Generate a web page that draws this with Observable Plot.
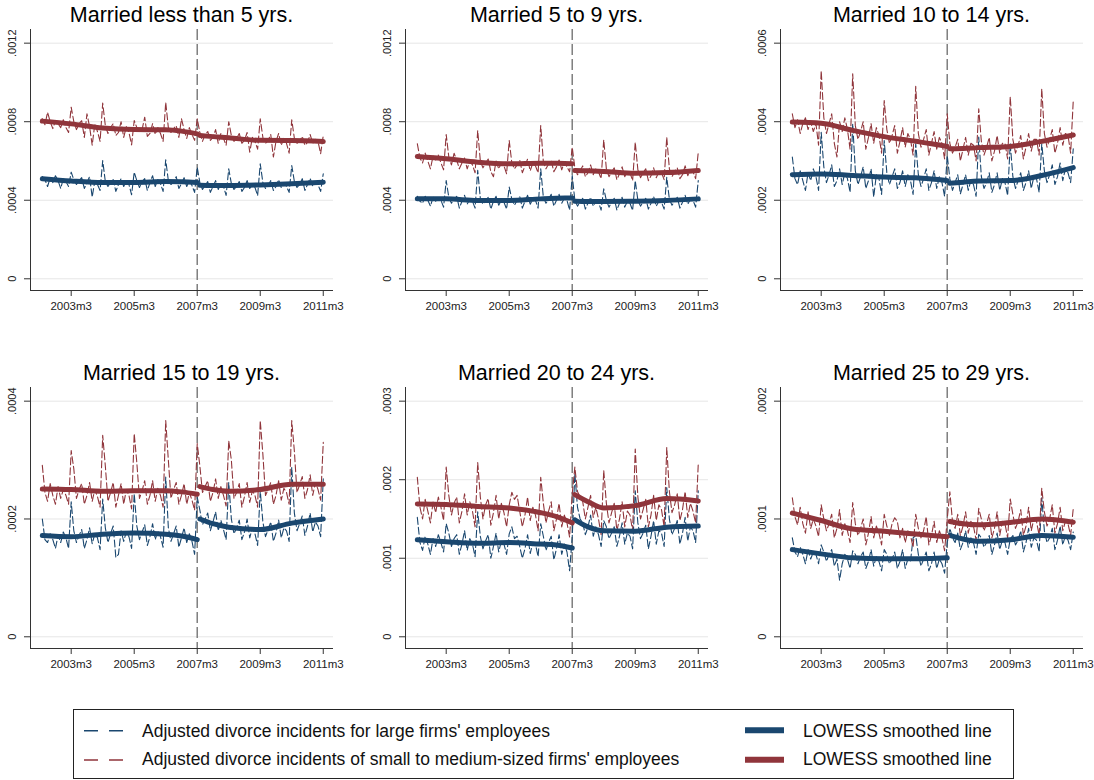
<!DOCTYPE html>
<html>
<head>
<meta charset="utf-8">
<script src="https://cdn.jsdelivr.net/npm/d3@7"></script>
<script src="https://cdn.jsdelivr.net/npm/@observablehq/plot@0.6"></script>
<style>
  body { margin: 0; background: #fff; font-family: "Liberation Sans", Arial, sans-serif; }
  #root { position: relative; width: 1094px; height: 780px; overflow: hidden; }
  .panel { position: absolute; width: 376px; height: 340px; }
  .panel svg { position: absolute; left: 0; top: 0; overflow: visible; }
  .title { position: absolute; left: 30px; width: 303px; top: 4.5px; text-align: center;
           font-size: 21.5px; line-height: 1; color: #000; white-space: nowrap; }
  .legend { position: absolute; left: 72.5px; top: 709px; width: 941px; height: 70px;
            border: 1px solid #222; box-sizing: border-box; }
  .ltext { position: absolute; font-size: 17.5px; line-height: 1; color: #111; white-space: nowrap; }
  .lkey { position: absolute; }
</style>
</head>
<body>
<div id="root"></div>
<script>
// ---------------- DATA (values in per-million units: 400 = .0004) ----------------
const seriesStartLabel = "2002m4";       // monthly series run 2002m4 .. 2011m3 (108 months)
const breakLabel = "2007m3";              // dashed reference line
const xTickLabels = ["2003m3", "2005m3", "2007m3", "2009m3", "2011m3"];
const lowessPreLabels  = ["2002m4", "2003m3", "2004m3", "2005m3", "2006m3", "2006m9", "2007m3"];
const lowessPostLabels = ["2007m4", "2007m9", "2008m3", "2009m3", "2010m3", "2011m3"];

const panelTitles = ["Married less than 5 yrs.", "Married 5 to 9 yrs.", "Married 10 to 14 yrs.",
                     "Married 15 to 19 yrs.", "Married 20 to 24 yrs.", "Married 25 to 29 yrs."];
const panelYTicks = [[0, 400, 800, 1200], [0, 400, 800, 1200], [0, 200, 400, 600],
                     [0, 200, 400], [0, 100, 200, 300], [0, 100, 200]];
const panelYTickLabels = [["0", ".0004", ".0008", ".0012"], ["0", ".0004", ".0008", ".0012"],
                          ["0", ".0002", ".0004", ".0006"], ["0", ".0002", ".0004"],
                          ["0", ".0001", ".0002", ".0003"], ["0", ".0001", ".0002"]];

const legendLabels = ["Adjusted divorce incidents for large firms' employees",
                      "Adjusted divorce incidents of small to medium-sized firms' employees",
                      "LOWESS smoothed line", "LOWESS smoothed line"];

// Panel 1: Married less than 5 yrs.
const p1Large = [
  520, 505, 470, 515, 490, 525, 500, 460, 510,
  495, 470, 543, 505, 480, 500, 515, 460, 490, 520, 416, 500,
  480, 450, 602, 495, 470, 490, 505, 445, 480, 510, 470, 495,
  480, 428, 543, 500, 465, 495, 510, 450, 490, 525, 470, 505,
  485, 445, 606, 500, 480, 495, 520, 460, 485, 515, 470, 500,
  475, 440, 568, 490, 455, 475, 495, 440, 470, 500, 455, 485,
  470, 425, 560, 485, 455, 470, 495, 445, 465, 500, 460, 480,
  465, 424, 586, 490, 460, 475, 500, 450, 470, 505, 465, 490,
  470, 440, 577, 495, 465, 480, 510, 450, 480, 512, 470, 495,
  480, 445, 535];
const p1Small = [
  815, 785, 848, 800, 765, 805, 790, 770, 810,
  770, 745, 874, 800, 760, 790, 805, 720, 840, 775, 680, 790,
  750, 700, 895, 780, 740, 770, 790, 730, 745, 800, 720, 775,
  745, 682, 806, 770, 750, 760, 823, 725, 740, 790, 735, 770,
  740, 700, 899, 770, 745, 765, 780, 720, 815, 760, 715, 770,
  735, 705, 815, 745, 700, 735, 750, 705, 720, 760, 690, 740,
  715, 680, 800, 730, 700, 715, 740, 690, 705, 745, 645, 720,
  700, 660, 815, 720, 690, 705, 735, 620, 700, 740, 680, 715,
  690, 640, 810, 715, 690, 700, 725, 680, 695, 735, 690, 710,
  700, 637, 730];
const p1LowLargePre  = [510, 498, 490, 490, 495, 494, 490];
const p1LowLargePost = [476, 475, 475, 478, 484, 492];
const p1LowSmallPre  = [803, 789, 768, 760, 759, 752, 738];
const p1LowSmallPost = [730, 724, 718, 705, 704, 699];

// Panel 2: Married 5 to 9 yrs.
const p2Large = [
  420, 395, 385, 420, 400, 370, 415, 395, 410,
  400, 365, 500, 415, 385, 405, 420, 360, 395, 425, 380, 405,
  395, 360, 552, 410, 380, 400, 415, 355, 395, 420, 375, 400,
  390, 355, 467, 405, 375, 400, 420, 360, 395, 425, 380, 405,
  400, 360, 560, 415, 385, 405, 430, 370, 400, 430, 385, 410,
  400, 350, 526, 400, 370, 390, 410, 355, 385, 415, 370, 395,
  390, 350, 458, 400, 365, 390, 410, 350, 385, 415, 365, 395,
  385, 348, 500, 400, 370, 390, 410, 355, 385, 420, 370, 395,
  390, 355, 517, 405, 375, 395, 415, 360, 390, 425, 380, 405,
  400, 365, 500];
const p2Small = [
  688, 615, 590, 640, 600, 560, 625, 605, 630,
  590, 555, 735, 620, 580, 639, 605, 560, 590, 615, 560, 600,
  580, 540, 755, 600, 565, 590, 610, 545, 520, 600, 560, 590,
  575, 535, 704, 590, 560, 580, 605, 540, 575, 610, 550, 590,
  575, 540, 781, 595, 560, 585, 600, 545, 570, 605, 555, 595,
  570, 545, 670, 565, 530, 550, 575, 520, 540, 580, 530, 560,
  545, 510, 708, 560, 520, 545, 565, 505, 535, 570, 520, 550,
  540, 500, 696, 555, 515, 540, 560, 500, 525, 565, 515, 545,
  540, 505, 721, 560, 520, 545, 565, 510, 530, 575, 525, 555,
  545, 510, 645];
const p2LowLargePre  = [407, 407, 399, 399, 407, 410, 412];
const p2LowLargePost = [395, 394, 394, 395, 399, 407];
const p2LowSmallPre  = [623, 611, 594, 586, 589, 588, 586];
const p2LowSmallPost = [552, 550, 547, 538, 541, 552];

// Panel 3: Married 10 to 14 yrs.
const p3Large = [
  310, 255, 240, 275, 250, 225, 270, 250, 280,
  260, 225, 373, 285, 245, 265, 290, 235, 250, 280, 240, 270,
  255, 220, 395, 275, 240, 260, 285, 230, 250, 280, 208, 265,
  255, 215, 352, 270, 240, 260, 280, 230, 245, 275, 235, 265,
  250, 215, 344, 265, 235, 255, 280, 225, 245, 275, 230, 260,
  245, 210, 314, 255, 225, 245, 265, 216, 240, 265, 225, 250,
  240, 210, 361, 260, 230, 245, 270, 220, 240, 270, 225, 255,
  245, 212, 344, 260, 230, 250, 270, 225, 245, 275, 230, 260,
  255, 220, 344, 275, 245, 265, 290, 240, 260, 295, 250, 280,
  270, 245, 331];
const p3Small = [
  420, 385, 405, 370, 395, 410, 380, 400, 375,
  395, 340, 530, 410, 370, 395, 420, 345, 310, 400, 375, 410,
  380, 330, 522, 390, 355, 375, 400, 330, 360, 395, 345, 385,
  365, 320, 454, 380, 345, 365, 390, 320, 350, 385, 335, 370,
  355, 315, 490, 370, 335, 355, 380, 315, 345, 375, 330, 360,
  345, 305, 420, 345, 320, 335, 355, 300, 330, 360, 315, 345,
  340, 300, 433, 350, 315, 335, 360, 300, 325, 365, 320, 345,
  345, 305, 464, 355, 320, 340, 365, 305, 335, 370, 325, 355,
  355, 315, 484, 370, 335, 355, 380, 320, 345, 385, 340, 370,
  365, 320, 454];
const p3LowLargePre  = [265, 267, 263, 259, 257, 254, 250];
const p3LowLargePost = [243, 246, 249, 250, 263, 283];
const p3LowSmallPre  = [399, 396, 378, 362, 350, 344, 337];
const p3LowSmallPost = [331, 332, 334, 337, 350, 366];

// Panel 4: Married 15 to 19 yrs.
const p4Large = [
  200, 165, 160, 175, 165, 150, 172, 160, 178,
  168, 150, 229, 180, 160, 172, 182, 150, 165, 185, 158, 175,
  168, 148, 234, 185, 160, 175, 188, 135, 140, 180, 162, 178,
  170, 150, 243, 188, 165, 178, 190, 155, 170, 192, 165, 180,
  170, 152, 271, 185, 162, 175, 188, 152, 168, 185, 160, 175,
  162, 140, 237, 215, 190, 200, 210, 180, 195, 212, 180, 198,
  182, 165, 262, 200, 175, 185, 198, 165, 178, 200, 168, 185,
  175, 155, 248, 195, 170, 182, 195, 162, 176, 198, 168, 185,
  180, 162, 288, 210, 180, 192, 205, 172, 188, 210, 178, 195,
  188, 170, 268];
const p4Small = [
  291, 245, 230, 260, 240, 225, 255, 235, 250,
  240, 225, 316, 285, 235, 250, 260, 225, 240, 262, 230, 250,
  238, 220, 342, 290, 230, 245, 262, 220, 240, 260, 225, 250,
  240, 217, 345, 295, 235, 248, 265, 225, 240, 265, 230, 252,
  240, 220, 367, 300, 235, 250, 262, 225, 240, 260, 225, 245,
  232, 215, 328, 290, 245, 255, 265, 230, 245, 268, 235, 255,
  240, 222, 333, 300, 235, 245, 260, 220, 238, 262, 228, 248,
  240, 220, 367, 310, 240, 250, 262, 225, 240, 265, 232, 252,
  245, 225, 367, 315, 245, 258, 272, 235, 250, 275, 240, 262,
  250, 232, 330];
const p4LowLargePre  = [172, 170, 174, 176, 174, 171, 165];
const p4LowLargePost = [200, 192, 186, 182, 193, 200];
const p4LowSmallPre  = [251, 250, 247, 248, 248, 246, 242];
const p4LowSmallPost = [255, 250, 247, 250, 259, 259];

// Panel 5: Married 20 to 24 yrs.
const p5Large = [
  152, 120, 110, 128, 118, 105, 125, 115, 130,
  120, 108, 144, 132, 115, 125, 130, 105, 118, 135, 110, 125,
  118, 102, 159, 128, 112, 122, 130, 100, 115, 132, 108, 122,
  118, 105, 131, 140, 125, 128, 115, 100, 112, 130, 106, 120,
  118, 102, 144, 128, 110, 120, 128, 98, 112, 130, 105, 118,
  108, 84, 127, 208, 165, 150, 145, 130, 140, 155, 128, 140,
  130, 115, 148, 140, 125, 132, 140, 115, 128, 145, 118, 132,
  128, 112, 186, 145, 125, 132, 142, 112, 128, 148, 118, 135,
  132, 115, 190, 150, 130, 138, 148, 118, 132, 152, 122, 140,
  135, 120, 186];
const p5Small = [
  203, 165, 150, 175, 160, 145, 172, 158, 178,
  165, 148, 216, 180, 155, 170, 178, 145, 160, 182, 155, 172,
  160, 140, 222, 178, 150, 168, 176, 142, 158, 180, 150, 170,
  158, 140, 168, 184, 175, 180, 160, 140, 155, 178, 148, 165,
  155, 135, 203, 170, 145, 160, 172, 135, 150, 170, 140, 155,
  145, 127, 182, 216, 185, 178, 172, 150, 165, 180, 152, 165,
  150, 130, 212, 170, 145, 158, 170, 135, 150, 172, 140, 160,
  155, 135, 239, 178, 150, 162, 175, 140, 155, 180, 148, 168,
  162, 140, 241, 185, 158, 168, 182, 148, 162, 185, 152, 170,
  160, 145, 220];
const p5LowLargePre  = [123.5, 121, 119, 120, 118, 117, 113];
const p5LowLargePost = [149, 140, 135, 134.5, 139.6, 141];
const p5LowSmallPre  = [169, 168.5, 166, 164, 158, 153, 145];
const p5LowSmallPost = [181, 172, 164, 167, 176, 173];

// Panel 6: Married 25 to 29 yrs.
const p6Large = [
  84, 72, 68, 76, 70, 62, 74, 66, 72,
  70, 62, 78, 72, 64, 70, 74, 60, 66, 48, 62, 70,
  66, 58, 73, 70, 62, 68, 72, 58, 64, 74, 60, 68,
  64, 56, 74, 70, 62, 66, 72, 58, 64, 74, 58, 66,
  64, 84, 86, 70, 60, 66, 72, 56, 62, 72, 58, 66,
  62, 54, 80, 92, 84, 80, 88, 74, 80, 90, 76, 84,
  80, 70, 87, 84, 76, 80, 86, 70, 78, 88, 74, 82,
  80, 70, 83, 86, 78, 82, 90, 72, 80, 92, 76, 84,
  82, 72, 118, 90, 80, 84, 92, 74, 82, 94, 78, 86,
  82, 74, 89];
const p6Small = [
  118, 102, 95, 110, 96, 88, 106, 92, 100,
  94, 85, 112, 100, 90, 96, 104, 84, 92, 108, 86, 96,
  90, 80, 114, 96, 86, 92, 100, 78, 88, 102, 84, 94,
  88, 78, 104, 94, 86, 96, 101, 98, 84, 92, 80, 90,
  86, 76, 104, 92, 84, 90, 102, 78, 86, 98, 80, 90,
  84, 73, 100, 123, 98, 92, 104, 86, 94, 106, 88, 98,
  94, 82, 109, 100, 90, 96, 104, 84, 92, 106, 86, 98,
  96, 84, 117, 104, 92, 98, 108, 86, 94, 110, 90, 100,
  98, 86, 126, 106, 94, 100, 112, 88, 96, 110, 90, 98,
  96, 86, 109];
const p6LowLargePre  = [74, 70.4, 67, 66.2, 66.2, 66.5, 67];
const p6LowLargePost = [86, 83, 81, 82.3, 86, 84.5];
const p6LowSmallPre  = [105, 98.7, 91.5, 89.6, 87.2, 86, 85];
const p6LowSmallPost = [97.9, 96, 95, 97, 100, 97.3];

// ---------------- BUILD ----------------
const BLUE = "#1a476f", RED = "#90353b", AX = "#333333", GRID = "#e6e6e6";
const parseM = s => { const [y, m] = s.split("m"); return (+y) * 12 + (+m) - 1; };
const seriesStart = parseM(seriesStartLabel);
const breakM = parseM(breakLabel);
const xTickMonths = xTickLabels.map(parseM);
const xDomain = [parseM("2003m3") - 15.5, parseM("2011m3") + 3.9];

const monthly = vals => vals.map((v, i) => ({m: seriesStart + i, v}));
const lowess = (pre, post) => [
  ...lowessPreLabels.map((l, i) => ({m: parseM(l), v: pre[i], seg: "pre"})),
  ...lowessPostLabels.map((l, i) => ({m: parseM(l), v: post[i], seg: "post"}))
];

const panels = [
  {large: p1Large, small: p1Small, lowL: lowess(p1LowLargePre, p1LowLargePost), lowS: lowess(p1LowSmallPre, p1LowSmallPost)},
  {large: p2Large, small: p2Small, lowL: lowess(p2LowLargePre, p2LowLargePost), lowS: lowess(p2LowSmallPre, p2LowSmallPost)},
  {large: p3Large, small: p3Small, lowL: lowess(p3LowLargePre, p3LowLargePost), lowS: lowess(p3LowSmallPre, p3LowSmallPost)},
  {large: p4Large, small: p4Small, lowL: lowess(p4LowLargePre, p4LowLargePost), lowS: lowess(p4LowSmallPre, p4LowSmallPost)},
  {large: p5Large, small: p5Small, lowL: lowess(p5LowLargePre, p5LowLargePost), lowS: lowess(p5LowSmallPre, p5LowSmallPost)},
  {large: p6Large, small: p6Small, lowL: lowess(p6LowLargePre, p6LowLargePost), lowS: lowess(p6LowSmallPre, p6LowSmallPost)}
];

const colX = [0, 375, 750], rowY = [0, 358];
const root = document.getElementById("root");

panels.forEach((p, k) => {
  const yTicks = panelYTicks[k], yLabels = panelYTickLabels[k];
  const M = yTicks[yTicks.length - 1];
  const yDomain = [-0.0497 * M, 1.058 * M];
  const div = document.createElement("div");
  div.className = "panel";
  div.style.left = colX[k % 3] + "px";
  div.style.top = rowY[Math.floor(k / 3)] + "px";
  const chart = Plot.plot({
    width: 376, height: 330,
    marginLeft: 30, marginRight: 43, marginTop: 29, marginBottom: 40,
    x: {domain: xDomain},
    y: {domain: yDomain},
    style: {fontFamily: "'Liberation Sans', Arial, sans-serif", background: "transparent", overflow: "visible"},
    marks: [
      Plot.gridY(yTicks, {stroke: GRID, strokeOpacity: 1, strokeWidth: 1}),
      Plot.ruleX([breakM], {stroke: "#7f7f7f", strokeWidth: 1.5, strokeDasharray: "11,4"}),
      Plot.line(monthly(p.large), {x: "m", y: "v", stroke: BLUE, strokeWidth: 1.1, strokeDasharray: "7,3"}),
      Plot.line(monthly(p.small), {x: "m", y: "v", stroke: RED, strokeWidth: 1.1, strokeDasharray: "7,3"}),
      Plot.line(p.lowL, {x: "m", y: "v", z: "seg", stroke: BLUE, strokeWidth: 5, curve: "monotone-x"}),
      Plot.line(p.lowS, {x: "m", y: "v", z: "seg", stroke: RED, strokeWidth: 5, curve: "monotone-x"}),
      Plot.ruleX([xDomain[0]], {stroke: AX, strokeWidth: 1}),
      Plot.ruleY([yDomain[0]], {stroke: AX, strokeWidth: 1}),
      Plot.axisY(yTicks, {tickSize: 6, tickFormat: () => "", label: null, stroke: AX}),
      Plot.text(yTicks, {x: xDomain[0], y: d => d, text: (d, i) => yLabels[i], rotate: -90,
                         dx: -18, fontSize: 11, fill: "#222", textAnchor: "middle", lineAnchor: "middle"}),
      Plot.axisX(xTickMonths, {tickSize: 6, tickPadding: 5, fontSize: 11.5, label: null, stroke: AX, fill: "#222",
                               tickFormat: d => xTickLabels[xTickMonths.indexOf(d)]})
    ]
  });
  div.appendChild(chart);
  const t = document.createElement("div");
  t.className = "title";
  t.textContent = panelTitles[k];
  div.appendChild(t);
  root.appendChild(div);
});

// ---------------- LEGEND ----------------
const leg = document.createElement("div");
leg.className = "legend";
root.appendChild(leg);
const ns = "http://www.w3.org/2000/svg";
function key(x1, x2, y, color, width, dash) {
  const s = document.createElementNS(ns, "svg");
  s.setAttribute("class", "lkey");
  s.setAttribute("width", 1094); s.setAttribute("height", 780);
  s.style.position = "absolute"; s.style.left = "0px"; s.style.top = "0px";
  const l = document.createElementNS(ns, "line");
  l.setAttribute("x1", x1); l.setAttribute("x2", x2);
  l.setAttribute("y1", y); l.setAttribute("y2", y);
  l.setAttribute("stroke", color); l.setAttribute("stroke-width", width);
  if (dash) l.setAttribute("stroke-dasharray", dash);
  s.appendChild(l);
  root.appendChild(s);
}
function ltext(x, top, str) {
  const d = document.createElement("div");
  d.className = "ltext";
  d.style.left = x + "px"; d.style.top = top + "px";
  d.textContent = str;
  root.appendChild(d);
}
key(84, 124, 730.7, BLUE, 1.6, "14,11");
key(84, 124, 760, RED, 1.6, "14,11");
key(745, 784, 730.3, BLUE, 6);
key(745, 784, 759.7, RED, 6);
ltext(142, 722.5, legendLabels[0]);
ltext(142, 751, legendLabels[1]);
ltext(803, 722.5, legendLabels[2]);
ltext(803, 751, legendLabels[3]);
</script>
</body>
</html>
